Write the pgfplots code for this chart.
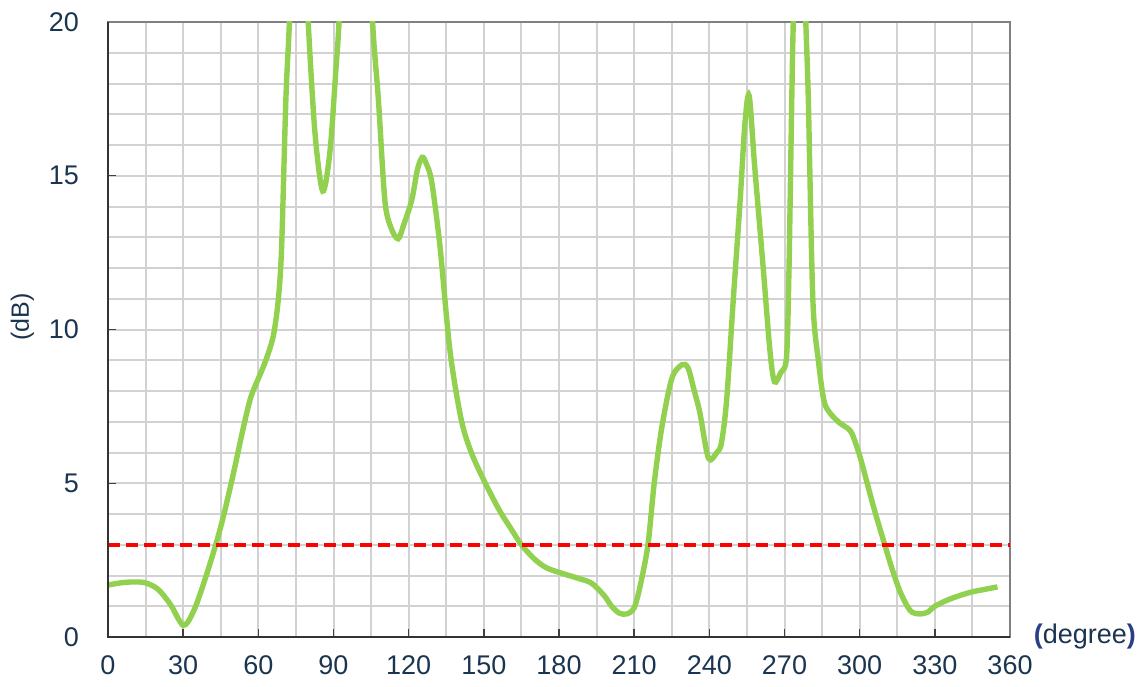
\documentclass[border=0pt]{standalone}
\usepackage{fontspec}
\setmainfont{Liberation Sans}
\usepackage{pgfplots}
\pgfplotsset{compat=1.18}
\usetikzlibrary{calc}
\definecolor{txt}{HTML}{1B3550}
\definecolor{paren}{HTML}{2A3F85}
\definecolor{curve}{HTML}{92D050}
\definecolor{gridc}{HTML}{D2D2D2}
\begin{document}
\begin{tikzpicture}
\begin{axis}[
  width=451pt, height=307.5pt,
  scale only axis,
  xmin=0, xmax=360, ymin=0, ymax=20,
  xtick={0,30,...,360}, ytick={0,5,...,20},
  minor xtick={15,45,75,105,135,165,195,225,255,285,315,345},
  minor ytick={1,2,3,4,6,7,8,9,11,12,13,14,16,17,18,19},
  grid=both,
  major grid style={draw=gridc, line width=1pt},
  minor grid style={draw=gridc, line width=1pt},
  minor tick length=0pt,
  major tick length=4pt,
  tick align=inside,
  tick style={draw=black!75, line width=0.7pt},
  xtick pos=bottom, ytick pos=left,
  axis line style={draw=black!50, line width=0.8pt},
  tick label style={font=\fontsize{13.5}{15}\selectfont, text=txt},
  /pgf/number format/assume math mode=true,
  xticklabel style={yshift=-6pt},
  yticklabel style={xshift=-11pt},
  clip mode=individual,
]
\addplot[curve, line width=2.7pt, smooth, tension=0.5] coordinates {
(0,1.69) (5,1.76) (10,1.79) (15,1.76) (20,1.55) (25,1.05) (28,0.6) (30,0.38)
(32,0.5) (35,1.0) (38,1.7) (40,2.2) (43,3.0) (46,3.9) (50,5.3) (54,6.8)
(57,7.8) (60,8.4) (63,9.0) (66,9.8) (68,11.0) (69.3,12.7) (71,17.5) (72.4,20)
(74,24) (76,25) (78,23.5) (79.9,20) (82.6,16.4) (85.7,14.5) (88.6,15.8) (91,18.5)
(92.2,20) (95,25) (99,27) (103,25) (105.6,20) (107.9,17.5) (110.5,14.2) (113,13.3)
(115.8,12.95) (118,13.4) (121.2,14.2) (123.5,15.2) (125.4,15.6) (127,15.4) (129.2,14.8)
(132.5,12.7) (136.5,9.3) (141,7.06) (145,6.0) (150,5.1) (156,4.15) (161,3.5) (165,3.0)
(170,2.55) (175,2.25) (182,2.05) (188,1.9) (193,1.75) (198,1.35) (201,1.0) (204,0.78)
(207,0.75) (210,0.95) (212.5,1.7) (215.5,3.0) (218,5.0) (221,6.8) (225,8.4)
(229,8.85) (231.5,8.75) (234,8.0) (236.2,7.3) (239,6.0) (240.5,5.76) (243,6.0) (244.8,6.3)
(246.9,7.7) (249.5,10.9) (252.3,14.2) (254.2,16.7) (255.9,17.6) (258.1,15.3) (261.5,12.0)
(264.2,9.3) (266,8.3) (268.5,8.6) (270.8,9.1) (271.8,12) (272.8,17) (273.5,20) (275,24)
(277,24) (278.5,20) (279.5,17.5) (281.3,11.0) (283.5,9.0) (285.7,7.7) (288,7.3) (292,6.96)
(295,6.8) (297,6.6) (300,5.9) (303,5.0) (306,4.1) (310,3.0) (313,2.2) (316,1.5) (319,1.0)
(321,0.8) (324,0.75) (327,0.8) (330,1.0) (335,1.2) (340,1.35) (345,1.47) (350,1.55) (355,1.63)
};
\addplot[red, line width=1.8pt, dash pattern=on 6pt off 3pt] coordinates {(0,3) (360,3)};
\draw[black!80, line width=1pt] (rel axis cs:0,1) -- (rel axis cs:0,0) -- (rel axis cs:1,0);
\node[rotate=90, font=\fontsize{12.5}{14}\selectfont, text=txt] at (axis description cs:-0.095,0.52) {(dB)};
\node[font=\fontsize{13.5}{15}\selectfont, text=txt] at (axis description cs:1.083,0.0) {\textcolor{paren}{\textbf{(}}degree\textcolor{paren}{\textbf{)}}};
\end{axis}
\pgfresetboundingbox
\useasboundingbox ($(current axis.south west)+(-54pt,-24.5pt)$) rectangle ($(current axis.north east)+(67pt,11pt)$);
\end{tikzpicture}
\end{document}
